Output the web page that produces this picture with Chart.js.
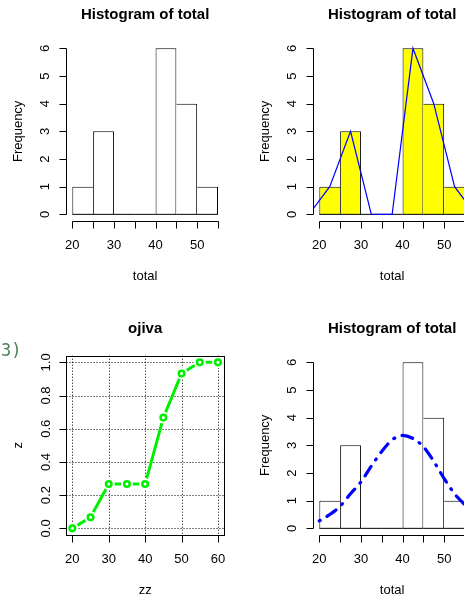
<!DOCTYPE html>
<html>
<head>
<meta charset="utf-8">
<script src="https://cdn.jsdelivr.net/npm/chart.js@4.4.0/dist/chart.umd.min.js"></script>
<style>
html, body { margin: 0; padding: 0; background: #fff; overflow: hidden; }
body { width: 464px; height: 597px; position: relative; }
canvas { position: absolute; }
#c1 { left: 0; top: 0; }
#c2 { left: 247px; top: 0; }
#c3 { left: 0; top: 314px; }
#c4 { left: 247px; top: 314px; }
#note { position: absolute; left: 1px; top: 340px; font: 17px/20px "DejaVu Sans Mono", monospace; color: #4d7d55; }
</style>
</head>
<body>
<canvas id="c1" width="232" height="300"></canvas>
<canvas id="c2" width="232" height="300"></canvas>
<canvas id="c3" width="232" height="300"></canvas>
<canvas id="c4" width="232" height="300"></canvas>
<div id="note">3)</div>
<script>
// histogram of total
const breaks = [20, 25, 30, 35, 40, 45, 50, 55];
const counts = [1, 3, 0, 0, 6, 4, 1];
// frequency polygon
const polyX = [17.5, 22.5, 27.5, 32.5, 37.5, 42.5, 47.5, 52.5, 57.5];
const polyY = [0, 1, 3, 0, 0, 6, 4, 1, 0];
// ojiva
const zz = [20, 25, 30, 35, 40, 45, 50, 55, 60];
const z = [0, 0.067, 0.267, 0.267, 0.267, 0.667, 0.933, 1, 1];
// normal curve
const curveX = [20, 22.5, 25, 27.5, 30, 32.5, 35, 37.5, 40, 42.5, 45, 47.5, 50, 52.5, 55, 57.5];
const curveY = [0.27, 0.5, 0.8, 1.25, 1.68, 2.25, 2.78, 3.2, 3.36, 3.25, 2.95, 2.42, 1.8, 1.25, 0.85, 0.5];
// ticks
const freqTicks = [0, 1, 2, 3, 4, 5, 6];
const totalTicks = [20, 25, 30, 35, 40, 45, 50, 55];
const zzTicks = [20, 30, 40, 50, 60];
const zTicks = [0, 0.2, 0.4, 0.6, 0.8, 1];

const mids = counts.map((c, i) => (breaks[i] + breaks[i + 1]) / 2);

Chart.defaults.font.family = '"Liberation Sans", Arial, Helvetica, sans-serif';
Chart.defaults.color = '#000';
Chart.defaults.animation = false;

// R style axes: line only between first and last tick, ticks outward
const rAxes = {
    id: 'rAxes',
    beforeDatasetsDraw(chart, args, o) {
        if (!o.grid) return;
        const {ctx, chartArea: a, scales: {x, y}} = chart;
        ctx.save();
        ctx.strokeStyle = '#000';
        ctx.lineWidth = 1;
        ctx.setLineDash([1, 2]);
        o.xTicks.forEach(v => {
            const px = Math.round(x.getPixelForValue(v)) + 0.5;
            ctx.beginPath(); ctx.moveTo(px, a.top); ctx.lineTo(px, a.bottom); ctx.stroke();
        });
        o.yTicks.forEach(v => {
            const py = Math.round(y.getPixelForValue(v)) + 0.5;
            ctx.beginPath(); ctx.moveTo(a.left, py); ctx.lineTo(a.right, py); ctx.stroke();
        });
        ctx.restore();
    },
    afterDraw(chart, args, o) {
        const {ctx, chartArea: a, scales: {x, y}} = chart;
        ctx.save();
        ctx.strokeStyle = '#000';
        ctx.lineWidth = 1;
        const by = Math.round(a.bottom) + 0.5;
        const lx = Math.round(a.left) - 0.5;
        const xs = o.xTicks.map(v => Math.round(x.getPixelForValue(v)) + 0.5);
        const ys = o.yTicks.map(v => Math.round(y.getPixelForValue(v)) + 0.5);
        ctx.beginPath();
        ctx.moveTo(xs[0], by); ctx.lineTo(xs[xs.length - 1], by);
        xs.forEach(px => { ctx.moveTo(px, by); ctx.lineTo(px, by + 7); });
        ctx.moveTo(lx, ys[0]); ctx.lineTo(lx, ys[ys.length - 1]);
        ys.forEach(py => { ctx.moveTo(lx, py); ctx.lineTo(lx - 7, py); });
        ctx.stroke();
        if (o.box) {
            ctx.strokeRect(lx, Math.round(a.top) + 0.5, Math.round(a.right) - lx + 0.5, by - Math.round(a.top) - 0.5);
        }
        ctx.restore();
    }
};

function xScale(min, max, ticks, title, every) {
    return {
        type: 'linear', min: min, max: max, offset: false,
        // invisible tick marks keep the labels low without padding the chart sides
        grid: {display: true, drawOnChartArea: false, drawTicks: true, tickLength: 17,
            color: 'rgba(0,0,0,0)'},
        border: {display: false},
        afterBuildTicks: s => { s.ticks = ticks.map(v => ({value: v})); },
        afterFit: s => { s.height = 79; },
        ticks: {font: {size: 13}, padding: 0, maxRotation: 0, autoSkip: false,
            callback: v => (v % every === 0 ? String(v) : '')},
        title: {display: true, text: title, font: {size: 13}, padding: {top: 0, bottom: 16}}
    };
}

function yScale(min, max, ticks, title, fmt, pad) {
    return {
        type: 'linear', min: min, max: max,
        grid: {display: false, drawTicks: false},
        border: {display: false},
        afterBuildTicks: s => { s.ticks = ticks.map(v => ({value: v})); },
        afterFit: s => { s.width = 66.5; },
        ticks: {font: {size: 13}, padding: pad, minRotation: 90, maxRotation: 90,
            crossAlign: 'center', autoSkip: false, callback: fmt},
        title: {display: true, text: title, font: {size: 13}, padding: {top: 10.5, bottom: 0}}
    };
}

function options(title, xs, ys, axes) {
    return {
        responsive: false,
        devicePixelRatio: 1,
        layout: {padding: {left: 0, right: 8.2, top: 0, bottom: 0}},
        scales: {x: xs, y: ys},
        plugins: {
            legend: {display: false},
            tooltip: {enabled: false},
            title: {display: true, text: title, fullSize: false, color: '#000',
                font: {size: 15, weight: 'bold'}, padding: {top: 6, bottom: 17.7}},
            rAxes: axes
        }
    };
}

// one border per shared edge, drawn by the taller bar
function edges(ctx) {
    const i = ctx.dataIndex, h = counts[i];
    if (!h) return 0;
    const prev = i > 0 ? counts[i - 1] : 0;
    const next = i < counts.length - 1 ? counts[i + 1] : 0;
    return {top: 1, bottom: 0, left: h > prev ? 1 : 0, right: h >= next ? 1 : 0};
}

function histSet(fill) {
    return {
        type: 'bar', order: 3,
        data: mids.map((m, i) => ({x: m, y: counts[i]})),
        backgroundColor: fill, borderColor: '#000', borderWidth: edges,
        borderSkipped: false, inflateAmount: 0,
        barPercentage: 1, categoryPercentage: 1
    };
}

function baseSet() {
    return {
        type: 'line', order: 2,
        data: breaks.map(b => ({x: b, y: 0})),
        borderColor: '#000', borderWidth: 1, pointRadius: 0
    };
}

const freqFmt = v => String(v);
const histAxes = {xTicks: totalTicks, yTicks: freqTicks};

new Chart(document.getElementById('c1'), {
    type: 'bar',
    data: {datasets: [histSet('#ffffff'), baseSet()]},
    options: options('Histogram of total',
        xScale(18.6, 56.4, totalTicks, 'total', 10),
        yScale(-0.24, 6.24, freqTicks, 'Frequency', freqFmt, 17.9), histAxes),
    plugins: [rAxes]
});

new Chart(document.getElementById('c2'), {
    type: 'bar',
    data: {datasets: [histSet('#ffff00'), baseSet(), {
        type: 'line', order: 1,
        data: polyX.map((x, i) => ({x: x, y: polyY[i]})),
        borderColor: '#0000ff', borderWidth: 1.2, pointRadius: 0
    }]},
    options: options('Histogram of total',
        xScale(18.6, 56.4, totalTicks, 'total', 10),
        yScale(-0.24, 6.24, freqTicks, 'Frequency', freqFmt, 17.9), histAxes),
    plugins: [rAxes]
});

const ojiva = zz.map((x, i) => ({x: x, y: z[i]}));
new Chart(document.getElementById('c3'), {
    type: 'line',
    data: {datasets: [
        {order: 3, data: ojiva, borderColor: '#00ee00', borderWidth: 3, pointRadius: 0},
        {order: 2, data: ojiva, showLine: false, pointRadius: 6, pointBorderWidth: 0,
            pointBackgroundColor: '#ffffff'},
        {order: 1, data: ojiva, showLine: false, pointRadius: 2.8, pointBorderWidth: 2.5,
            pointBorderColor: '#00ee00', pointBackgroundColor: '#ffffff'}
    ]},
    options: options('ojiva',
        xScale(18.4, 61.6, zzTicks, 'zz', 10),
        yScale(-0.04, 1.04, zTicks, 'z', v => v.toFixed(1), 10.8),
        {xTicks: zzTicks, yTicks: zTicks, box: true, grid: true}),
    plugins: [rAxes]
});

new Chart(document.getElementById('c4'), {
    type: 'bar',
    data: {datasets: [histSet('#ffffff'), baseSet(), {
        type: 'line', order: 1,
        data: curveX.map((x, i) => ({x: x, y: curveY[i]})),
        borderColor: '#0000ff', borderWidth: 3.2, pointRadius: 0,
        cubicInterpolationMode: 'monotone', borderCapStyle: 'round',
        borderDash: [1, 8, 11, 8]
    }]},
    options: options('Histogram of total',
        xScale(18.6, 56.4, totalTicks, 'total', 10),
        yScale(-0.24, 6.24, freqTicks, 'Frequency', freqFmt, 17.9), histAxes),
    plugins: [rAxes]
});
</script>
</body>
</html>
